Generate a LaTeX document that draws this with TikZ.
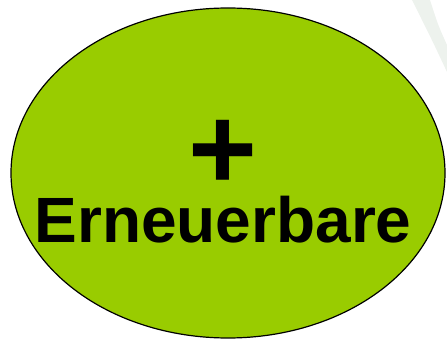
\documentclass[tikz,border=0pt]{standalone}
\usepackage{fontspec}
\setmainfont{Liberation Sans}
\definecolor{leaf}{HTML}{99CC00}
\definecolor{haze}{HTML}{EDF2ED}
\begin{document}
\begin{tikzpicture}[x=1pt,y=-1pt,
  blob/.style={draw=black,line width=1.2pt,fill=leaf},
  big/.style={font=\bfseries\fontsize{64}{70}\selectfont,inner sep=0pt,anchor=base},
  plusmark/.style={font=\bfseries\fontsize{118}{120}\selectfont,inner sep=0pt}]
\useasboundingbox (0,0) rectangle (447,339);
\fill[haze] (412,0) -- (430,0) .. controls (438,25) .. (447,45) -- (447,72) .. controls (432,40) .. (412,0) -- cycle;
\draw[blob] (228,173) ellipse [x radius=217, y radius=165];
\node[plusmark] (plus) at (222.5,154.5) {+};
\node[big] (word) at (223,242) {Erneuerbare};
\end{tikzpicture}
\end{document}
